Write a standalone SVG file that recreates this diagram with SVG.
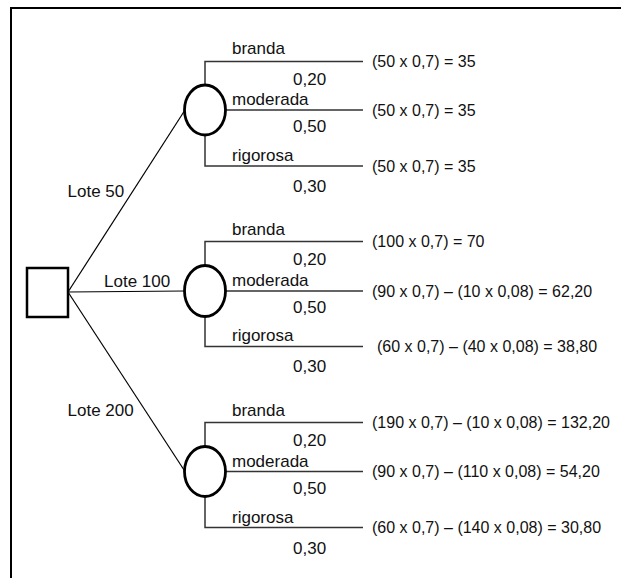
<svg xmlns="http://www.w3.org/2000/svg" width="621" height="578" viewBox="0 0 621 578">
<style>
.frame{fill:none;stroke:#000;stroke-width:2}
.node{fill:#fff;stroke:#000;stroke-width:2.5}
.chance{stroke-width:2.8}
.diag{fill:none;stroke:#000;stroke-width:1.2}
.br{fill:none;stroke:#333;stroke-width:1.5}
text{font-family:"Liberation Sans",Arial,sans-serif;fill:#111}
.lbl{font-size:17px}
.val{font-size:16px}
</style>
<rect width="621" height="578" fill="#fff"/>
<path class="frame" d="M11,578 V8 H621"/>
<g id="connectors">
<path class="diag" d="M68,292 L185,110"/>
<path class="diag" d="M68,292 L185,291"/>
<path class="diag" d="M68,292 L185,471.5"/>
<path class="br" d="M205,85 V61.5 H363 M225,110 H363 M205,135 V166 H363"/>
<path class="br" d="M205,265.5 V241.5 H363 M225,291 H363 M205,316.5 V346.5 H363"/>
<path class="br" d="M205,446.5 V422.5 H363 M225,471.5 H363 M205,497 V527.5 H363"/>
</g>
<g id="edge-labels" class="lbl">
<text x="67.5" y="197">Lote 50</text>
<text x="104" y="287">Lote 100</text>
<text x="67.5" y="416">Lote 200</text>
<text x="232" y="53.5">branda</text>
<text x="293" y="84.5">0,20</text>
<text x="232" y="105">moderada</text>
<text x="293" y="132">0,50</text>
<text x="232" y="160.5">rigorosa</text>
<text x="293" y="191.5">0,30</text>
<text x="232" y="235">branda</text>
<text x="293" y="265">0,20</text>
<text x="232" y="286">moderada</text>
<text x="293" y="313">0,50</text>
<text x="232" y="341">rigorosa</text>
<text x="293" y="372">0,30</text>
<text x="232" y="416">branda</text>
<text x="293" y="446">0,20</text>
<text x="232" y="466.5">moderada</text>
<text x="293" y="494">0,50</text>
<text x="232" y="522.5">rigorosa</text>
<text x="293" y="554">0,30</text>
</g>
<g id="decision"><rect class="node" x="27" y="268" width="41" height="49"/></g>
<g id="chance-50"><ellipse class="node chance" cx="205" cy="110" rx="20.5" ry="25"/></g>
<g id="chance-100"><ellipse class="node chance" cx="205" cy="291" rx="20.5" ry="25.5"/></g>
<g id="chance-200"><ellipse class="node chance" cx="205" cy="471.5" rx="20.5" ry="25"/></g>
<g id="outcomes" class="val">
<g id="out-50-b"><text x="372" y="66.5">(50 x 0,7) = 35</text></g>
<g id="out-50-m"><text x="372" y="115.5">(50 x 0,7) = 35</text></g>
<g id="out-50-r"><text x="372" y="171.5">(50 x 0,7) = 35</text></g>
<g id="out-100-b"><text x="372" y="247">(100 x 0,7) = 70</text></g>
<g id="out-100-m"><text x="372" y="296.5">(90 x 0,7) – (10 x 0,08) = 62,20</text></g>
<g id="out-100-r"><text x="377" y="352">(60 x 0,7) – (40 x 0,08) = 38,80</text></g>
<g id="out-200-b"><text x="372" y="428">(190 x 0,7) – (10 x 0,08) = 132,20</text></g>
<g id="out-200-m"><text x="372" y="477">(90 x 0,7) – (110 x 0,08) = 54,20</text></g>
<g id="out-200-r"><text x="372" y="533">(60 x 0,7) – (140 x 0,08) = 30,80</text></g>
</g>
</svg>
